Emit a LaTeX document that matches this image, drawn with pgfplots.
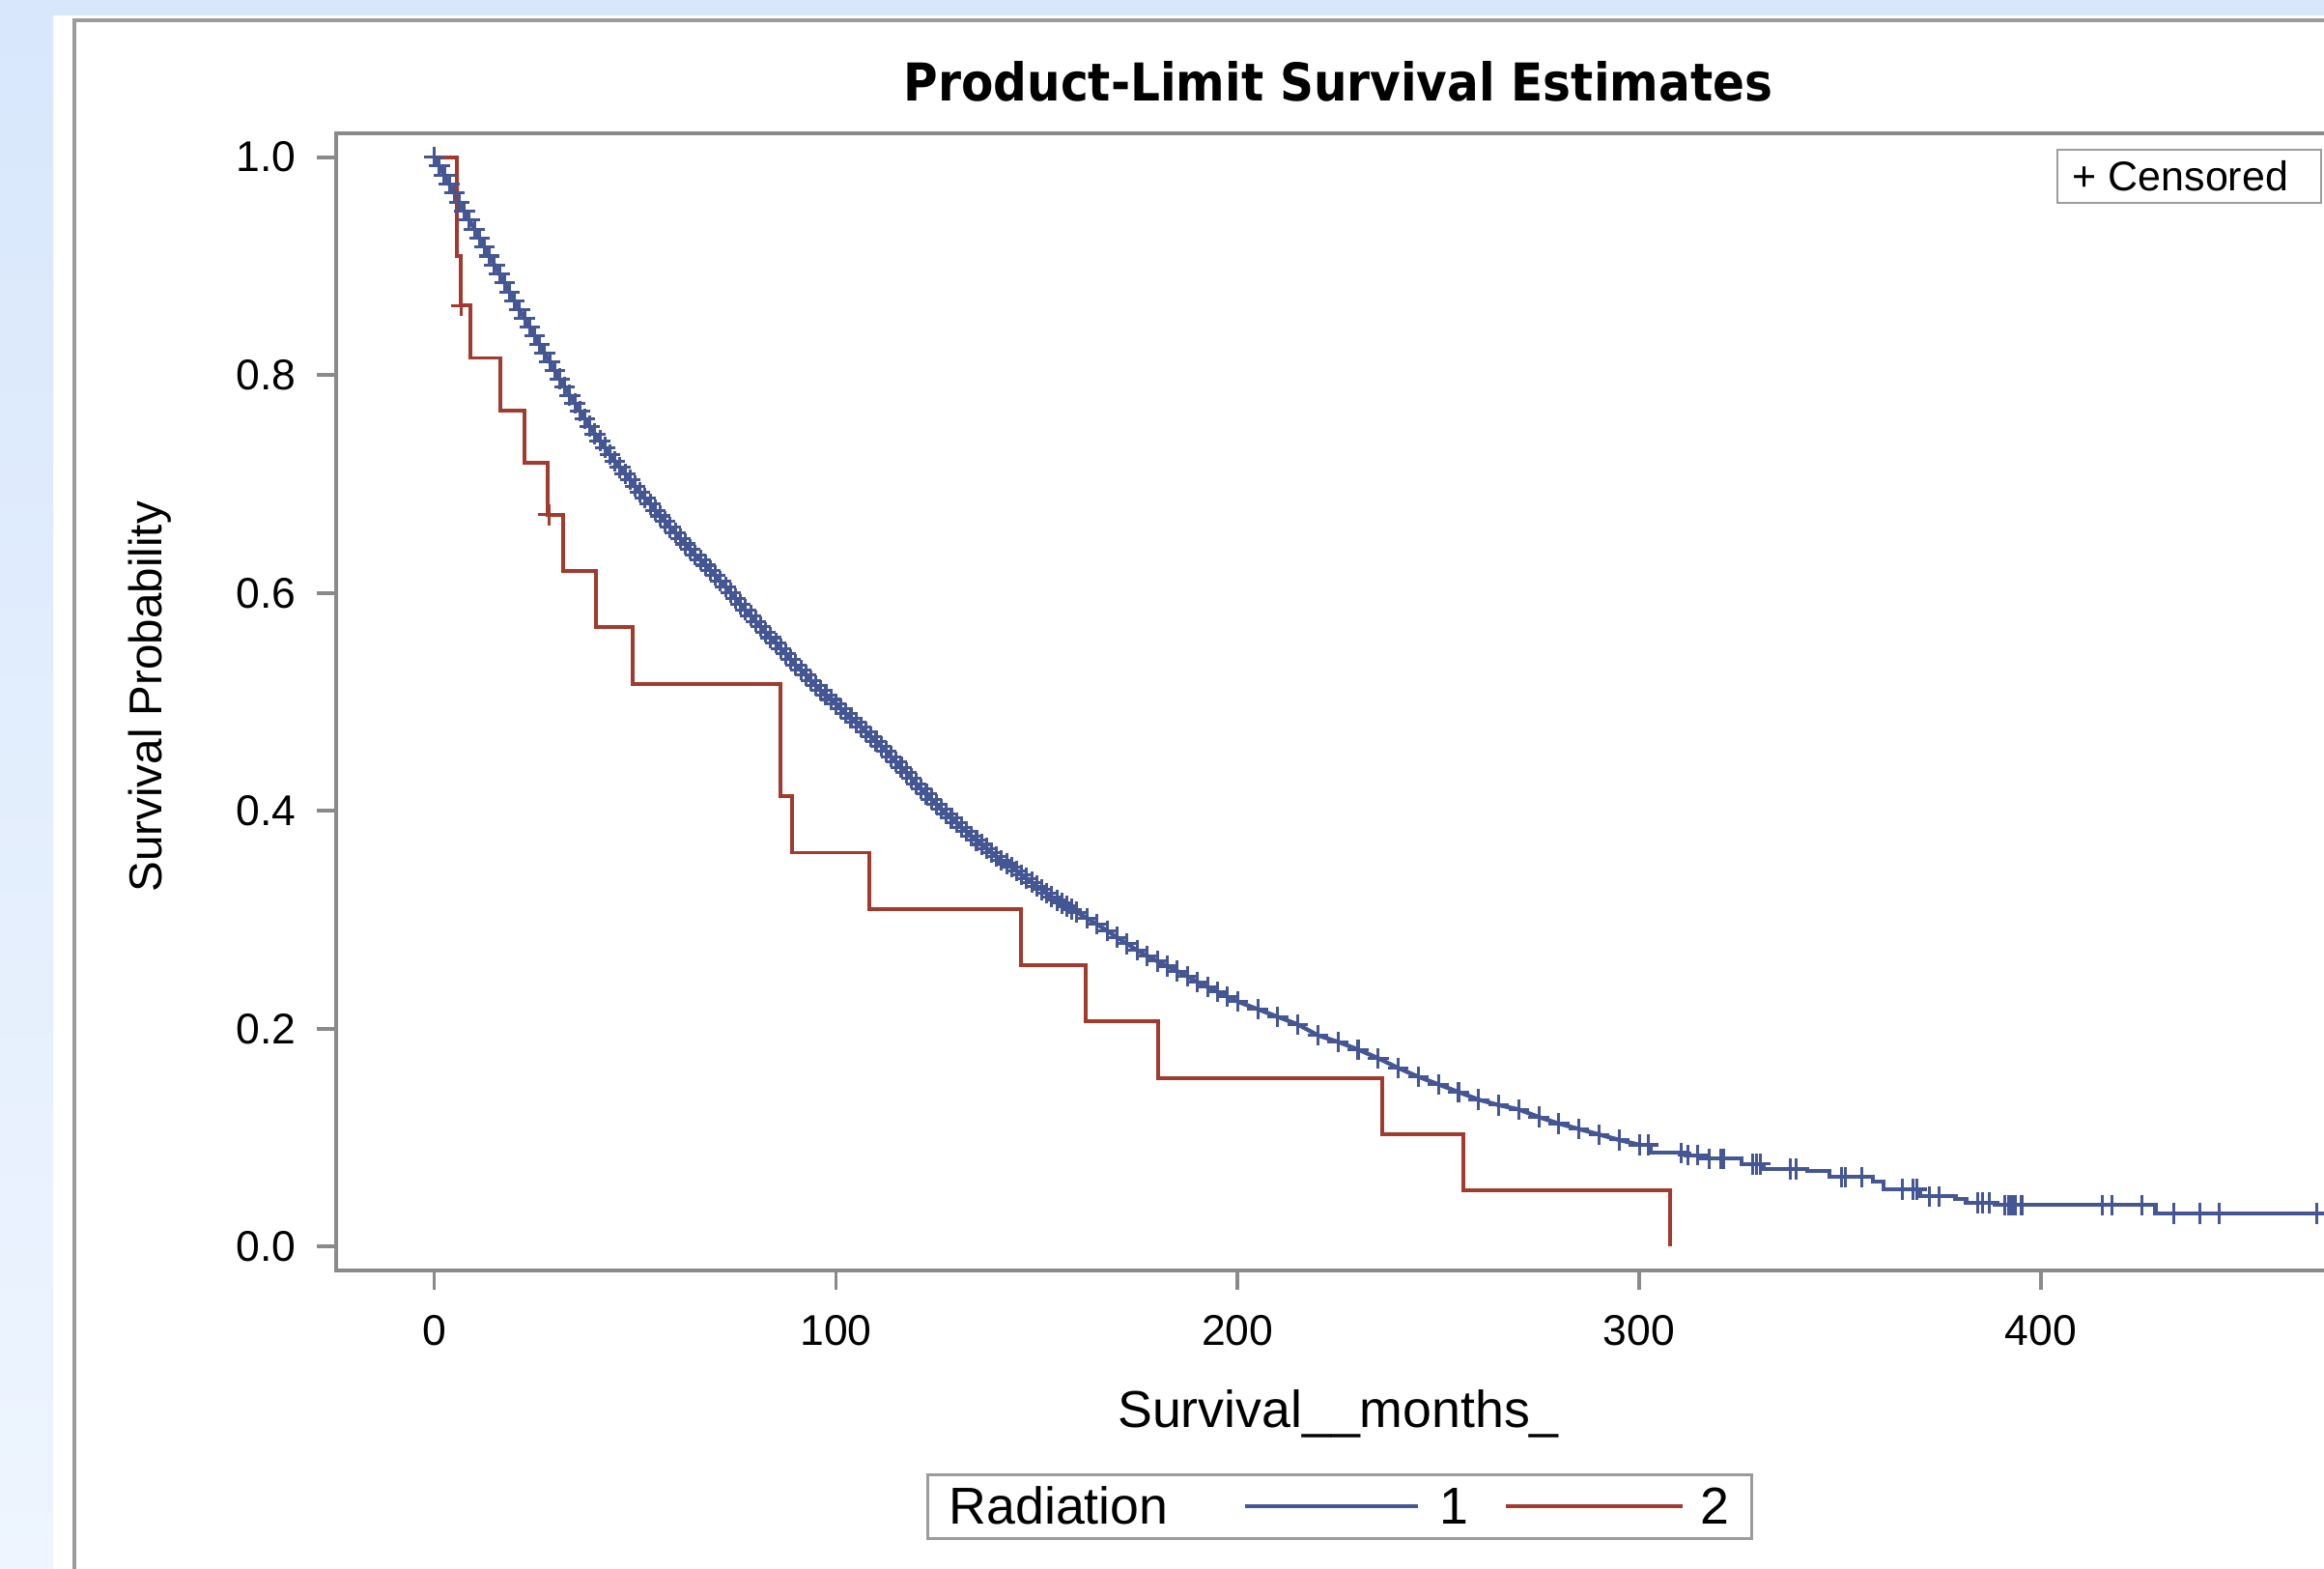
\documentclass[border=0pt]{standalone}
\usepackage{fontspec}
\setmainfont{Liberation Sans}
\newfontfamily\titlefont{DejaVu Sans Condensed}
\usepackage{pgfplots}
\usepackage{pgfplotstable}
\pgfplotsset{compat=1.18}

\definecolor{sasblue}{HTML}{445694}
\definecolor{sasred}{HTML}{A23A2E}
\definecolor{axgray}{HTML}{8A8A8A}
\definecolor{framegray}{HTML}{9C9C9C}
\definecolor{bgtop}{HTML}{D8E7FC}
\definecolor{bgbot}{HTML}{EEF5FE}

% Radiation = 1, dense part of the curve (censored obs. almost everywhere)
\pgfplotstableread{
x y
0 1.000
2.5 0.9835
5 0.967
7.5 0.9505
10 0.934
12.5 0.9175
15 0.901
17.5 0.8845
20 0.868
22.5 0.852
25 0.836
27.5 0.820
30 0.804
32.5 0.789
35 0.774
37.5 0.760
40 0.746
42.5 0.7335
45 0.721
47.5 0.7095
50 0.698
52.5 0.687
55 0.676
57.5 0.6655
60 0.655
62.5 0.645
65 0.635
67.5 0.6255
70 0.616
72.5 0.6055
75 0.595
77.5 0.5845
80 0.574
82.5 0.564
85 0.554
87.5 0.544
90 0.534
92.5 0.5245
95 0.515
97.5 0.5065
100 0.498
102.5 0.4895
105 0.481
107.5 0.4725
110 0.464
112.5 0.4545
115 0.445
117.5 0.435
120 0.425
122.5 0.4155
125 0.406
127.5 0.3975
130 0.389
132.5 0.381
135 0.373
137.5 0.3655
140 0.358
142.5 0.3515
145 0.345
147.5 0.338
150 0.331
152.5 0.3245
155 0.318
157.5 0.3125
160 0.307
162.5 0.3015
165 0.296
167.5 0.290
170 0.284
172.5 0.278
175 0.272
177.5 0.267
180 0.262
182.5 0.2575
185 0.253
187.5 0.248
190 0.243
192.5 0.2385
195 0.234
197.5 0.2295
200 0.225
205 0.218
210 0.211
215 0.204
220 0.194
225 0.188
230 0.181
235 0.173
240 0.164
245 0.156
250 0.149
255 0.142
260 0.135
265 0.130
270 0.126
275 0.119
280 0.113
285 0.108
290 0.103
295 0.098
300 0.0935
}\bluedense

% Radiation = 1, further censored observations in the dense part
\pgfplotstableread{
x y
1.25 0.99175
3.75 0.97525
6.25 0.95875
8.75 0.94225
11.25 0.92575
13.75 0.90925
16.25 0.89275
18.75 0.87625
21.25 0.860
23.75 0.844
26.25 0.828
28.75 0.812
31.25 0.7965
33.75 0.7815
36.25 0.767
38.75 0.753
41.25 0.73975
43.75 0.72725
46.25 0.71525
48.75 0.70375
51.25 0.6925
53.75 0.6815
56.25 0.67075
58.75 0.66025
61.25 0.650
63.75 0.640
66.25 0.63025
68.75 0.62075
71.25 0.61075
73.75 0.60025
76.25 0.58975
78.75 0.57925
81.25 0.569
83.75 0.559
86.25 0.549
88.75 0.539
91.25 0.52925
93.75 0.51975
96.25 0.51075
98.75 0.50225
101.25 0.49375
103.75 0.48525
106.25 0.47675
108.75 0.46825
111.25 0.45925
113.75 0.44975
116.25 0.440
118.75 0.430
121.25 0.42025
123.75 0.41075
126.25 0.40175
128.75 0.39325
131.25 0.385
133.75 0.377
136.25 0.36925
138.75 0.36175
141.25 0.35475
143.75 0.34825
146.25 0.3415
148.75 0.3345
151.25 0.32775
153.75 0.32125
156.25 0.31525
158.75 0.30975
}\bluedensecens

% Radiation = 1, tail steps
\pgfplotstableread{
x y
300 0.0935
302.9 0.0861
311.5 0.0840
317.0 0.0808
325.4 0.0758
331.0 0.0713
341.9 0.0693
347.3 0.0639
358.1 0.0595
360.8 0.0527
370.0 0.0462
378.7 0.0441
381.4 0.0403
388.4 0.0382
428.5 0.0305
500 0.0305
}\bluetail

% Radiation = 1, censored in the tail
\pgfplotstableread{
x y
302.3 0.0935
310.4 0.0861
312.1 0.0840
314.6 0.0840
317.5 0.0808
320.2 0.0808
321.1 0.0808
328.3 0.0758
329.1 0.0758
330.2 0.0758
337.5 0.0713
339.1 0.0713
350.3 0.0639
351.4 0.0639
355.4 0.0639
365.4 0.0527
368.1 0.0527
369.1 0.0527
372.2 0.0462
374.6 0.0462
384.3 0.0403
385.4 0.0403
387.1 0.0403
391.1 0.0382
391.9 0.0382
392.8 0.0382
393.6 0.0382
395.2 0.0382
415.3 0.0382
417.7 0.0382
425.2 0.0382
433.0 0.0305
439.6 0.0305
444.4 0.0305
468.6 0.0305
}\bluecens

% Radiation = 2
\pgfplotstableread{
x y
0 1.000
5.7 0.9091
6.6 0.8636
9.1 0.8157
16.5 0.7677
22.4 0.7197
28.2 0.6717
32.0 0.6201
40.2 0.5684
49.4 0.5167
86.3 0.4134
89.1 0.3617
108.3 0.3100
146.1 0.2584
162.2 0.2067
180.2 0.1550
236.0 0.1034
256.3 0.0517
307.7 0
}\redkm

\pgfplotstableread{
x y
6.8 0.8636
28.5 0.6717
}\redcens

\begin{document}
\begin{tikzpicture}
\useasboundingbox (0,0) rectangle (784pt,529pt);
\clip (0,0) rectangle (784pt,529pt);
\fill[white] (0,0) rectangle (784pt,529pt);
\fill[bgtop] (0,523.8pt) rectangle (784pt,529pt);
\shade[top color=bgtop, bottom color=bgbot] (0,0) rectangle (18pt,529pt);
\draw[framegray, line width=1.2pt] (25pt,-5pt) -- (25pt,522.2pt) -- (800pt,522.2pt);

\begin{axis}[
    at={(113.5pt,100.5pt)}, anchor=south west,
    scale only axis,
    width=710.5pt, height=383.5pt,
    xmin=-24.35, xmax=500,
    ymin=-0.0218, ymax=1.0218,
    axis line style={axgray, line width=1.25pt},
    xtick={0,100,200,300,400},
    ytick={0,0.2,0.4,0.6,0.8,1},
    xtick pos=bottom, ytick pos=left,
    tick align=outside,
    major tick length=6.5pt,
    tick style={axgray, line width=1.25pt},
    tick label style={font=\fontsize{14.5}{17}\selectfont, inner sep=0pt},
    /pgf/number format/assume math mode=true,
    yticklabel style={/pgf/number format/fixed, /pgf/number format/fixed zerofill,
        /pgf/number format/precision=1, anchor=east, xshift=-7pt},
    xticklabel style={anchor=north, yshift=-8.5pt},
    xlabel={Survival\_\_months\_},
    xlabel style={at={(axis description cs:0.4757,-0.1382)}, anchor=base,
        font=\fontsize{17.5}{20}\selectfont},
    ylabel={Survival Probability},
    ylabel style={at={(axis description cs:-0.0887,0.5046)}, anchor=center,
        font=\fontsize{15.5}{18}\selectfont},
    title={\resizebox{293pt}{!}{\titlefont\bfseries Product-Limit Survival Estimates}},
    title style={at={(axis description cs:0.4757,1.0125)}, anchor=base, inner sep=0pt},
    censor/.style={mark=+, mark size=3.5pt, mark options={line width=1pt, solid}},
]
\addplot[sasblue, line width=1.4pt, censor] table {\bluedense};
\addplot[sasblue, only marks, censor] table {\bluedensecens};
\addplot[sasblue, line width=1.4pt, const plot, no marks] table {\bluetail};
\addplot[sasblue, only marks, censor] table {\bluecens};
\addplot[sasred, line width=1.3pt, const plot, no marks] table {\redkm};
\addplot[sasred, only marks, censor] table {\redcens};
\end{axis}

% censored legend (top right)
\draw[framegray, line width=0.8pt, fill=white] (694pt,460.5pt) rectangle (783pt,478.5pt);
\node[anchor=base west, inner sep=0pt, font=\fontsize{14}{16}\selectfont] at (699pt,464.75pt) {+ Censored};

% group legend (bottom)
\draw[framegray, line width=1pt, fill=white] (313pt,10pt) rectangle (591pt,31.5pt);
\node[anchor=base west, inner sep=0pt, font=\fontsize{17.5}{20}\selectfont] at (320pt,15pt) {Radiation};
\draw[sasblue, line width=1.2pt] (420pt,21pt) -- (478.5pt,21pt);
\node[anchor=base, inner sep=0pt, font=\fontsize{17.5}{20}\selectfont] at (490.5pt,15pt) {1};
\draw[sasred, line width=1.2pt] (508pt,21pt) -- (567.5pt,21pt);
\node[anchor=base, inner sep=0pt, font=\fontsize{17.5}{20}\selectfont] at (578.5pt,15pt) {2};
\end{tikzpicture}
\end{document}
